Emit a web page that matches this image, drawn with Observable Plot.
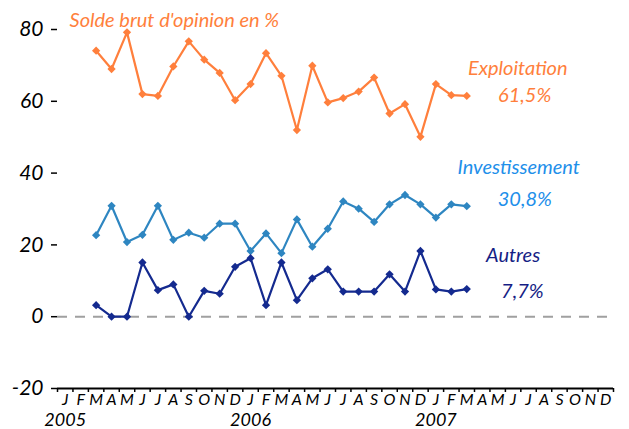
<!DOCTYPE html>
<html>
<head>
<meta charset="utf-8">
<script src="https://cdn.jsdelivr.net/npm/d3@7"></script>
<script src="https://cdn.jsdelivr.net/npm/@observablehq/plot@0.6"></script>
<style>
  html, body { margin: 0; padding: 0; background: #fff; }
  #chart svg { font-family: Lato, "Open Sans", sans-serif; font-style: italic; overflow: visible; }
</style>
</head>
<body>
<div id="chart"></div>
<script>
// ---- Data (solde brut d'opinion en %, mars 2005 -> mars 2007) ----
const periods = [
  "2005-03","2005-04","2005-05","2005-06","2005-07","2005-08","2005-09","2005-10","2005-11","2005-12",
  "2006-01","2006-02","2006-03","2006-04","2006-05","2006-06","2006-07","2006-08","2006-09","2006-10","2006-11","2006-12",
  "2007-01","2007-02","2007-03"
];
const exploitation = [74.1, 69.0, 79.2, 62.0, 61.5, 69.7, 76.7, 71.6, 67.9, 60.3, 64.8, 73.4, 67.1, 52.0, 69.9,
  59.7, 60.9, 62.7, 66.6, 56.6, 59.2, 50.1, 64.8, 61.7, 61.5];
const investissement = [22.7, 30.9, 20.8, 22.8, 30.9, 21.4, 23.4, 22.0, 25.9, 25.9, 18.3, 23.2, 17.7, 27.1, 19.5,
  24.5, 32.1, 30.1, 26.4, 31.3, 33.9, 31.3, 27.6, 31.3, 30.8];
const autres = [3.2, 0, 0, 15.1, 7.4, 9.0, 0, 7.2, 6.4, 13.9, 16.3, 3.2, 15.1, 4.6, 10.7,
  13.2, 7.0, 7.0, 7.0, 11.8, 7.0, 18.3, 7.6, 7.0, 7.7];
const seriesNames = ["Exploitation", "Investissement", "Autres"];
const monthLetters = ["J","F","M","A","M","J","J","A","S","O","N","D"];
const years = ["2005","2006","2007"];
const yTicks = [-20, 0, 20, 40, 60, 80];
const title = "Solde brut d'opinion en %";

// ---- Build table ----
const firstYear = +years[0];
const idx = p => (+p.slice(0,4) - firstYear) * 12 + (+p.slice(5,7) - 1);
const nMonths = years.length * 12;
const values = [exploitation, investissement, autres];
const rows = seriesNames.flatMap((s, k) => periods.map((p, i) => ({serie: s, x: idx(p), y: values[k][i]})));

const lineColors = {Exploitation: "#FF7F3C", Investissement: "#2E86C1", Autres: "#142A8F"};
const labelColors = {Exploitation: "#FF7F3C", Investissement: "#1E8FEA", Autres: "#161E85"};
const fmt = v => v.toFixed(1).replace(".", ",") + "%";

const labels = [
  {serie: "Exploitation", text: "Exploitation", x: 29.3, y: 69.0},
  {serie: "Exploitation", text: fmt(exploitation[exploitation.length-1]), x: 29.75, y: 61.5},
  {serie: "Investissement", text: "Investissement", x: 29.36, y: 41.5},
  {serie: "Investissement", text: fmt(investissement[investissement.length-1]), x: 29.76, y: 32.5},
  {serie: "Autres", text: "Autres", x: 29.0, y: 16.9},
  {serie: "Autres", text: fmt(autres[autres.length-1]), x: 29.6, y: 7.0}
];

const chart = Plot.plot({
  width: 629,
  height: 429,
  marginLeft: 57,
  marginRight: 16,
  marginTop: 29,
  marginBottom: 41,
  x: {type: "linear", domain: [-0.5, nMonths - 0.5], axis: null},
  y: {domain: [-20, 80], axis: null},
  marks: [
    Plot.ruleY([0], {stroke: "#A0A0A0", strokeWidth: 2, strokeDasharray: "10,8"}),
    Plot.ruleY([-20], {stroke: "#000", strokeWidth: 2}),
    // Y axis
    Plot.axisY({ticks: yTicks, label: null, tickSize: 6, tickPadding: 8, fontSize: 21, strokeWidth: 1.5, tickFormat: d => String(d), fill: "#000"}),
    // X ticks at month boundaries
    Plot.axisX({ticks: d3.range(nMonths + 1).map(i => i - 0.5), label: null, tickSize: 4, tickFormat: () => "", strokeWidth: 1.5}),
    // Month letters
    Plot.axisX({ticks: d3.range(nMonths), label: null, tickSize: 0, tickPadding: 5, fontSize: 16, tickFormat: i => monthLetters[i % 12], fill: "#000"}),
    // Years
    Plot.axisX({ticks: years.map((_, k) => k * 12), label: null, tickSize: 0, tickPadding: 25, fontSize: 18, tickFormat: i => years[i / 12], fill: "#000"}),
    // Series
    Plot.line(rows, {x: "x", y: "y", z: "serie", stroke: d => lineColors[d.serie], strokeWidth: 2.2}),
    Plot.dot(rows, {x: "x", y: "y", symbol: "square", rotate: 45, r: 3.3, fill: d => lineColors[d.serie], stroke: null}),
    // Labels
    Plot.text(labels, {x: "x", y: "y", text: "text", fill: d => labelColors[d.serie], fontSize: 20}),
    Plot.text([title], {x: 0.28, y: 82.4, text: d => d, textAnchor: "start", fill: lineColors.Exploitation, fontSize: 20})
  ]
});
document.getElementById("chart").appendChild(chart);
</script>
</body>
</html>
